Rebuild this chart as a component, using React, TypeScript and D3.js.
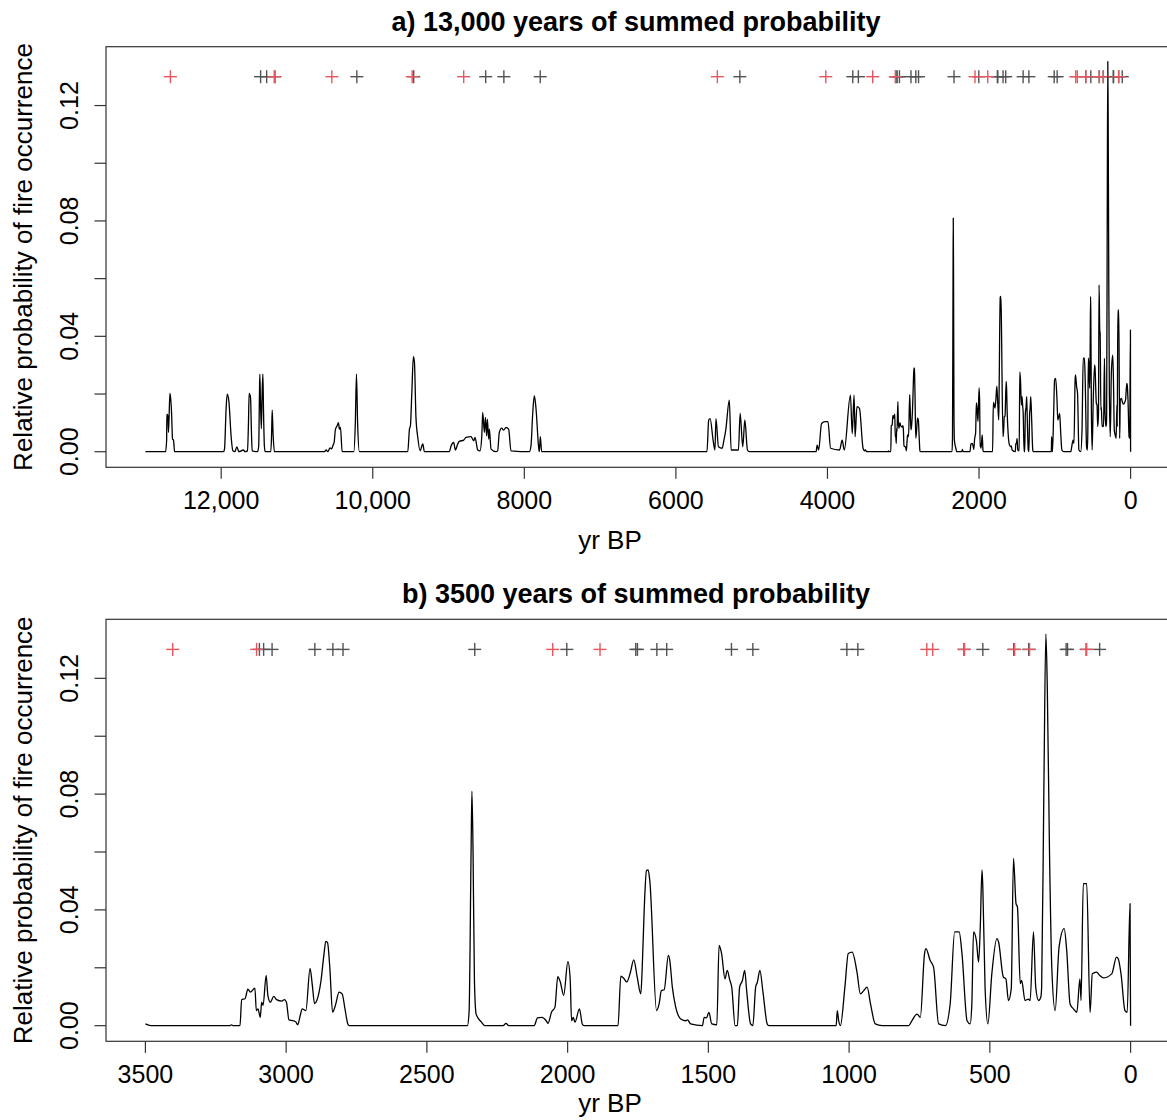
import React from "react";
import * as d3 from "d3";

// ---------- DATA ----------
// Summed probability curve, older part (yr BP, relative probability)
const curveOlder: [number, number][] = [
  [13000, 0], [12734, 0], [12720, 0.004], [12717, 0.013], [12704, 0.0125], [12695, 0.0067], [12677, 0.0202], [12668, 0.0188],
  [12655, 0.0136], [12642, 0.0044], [12629, 0.004], [12615, 0],
  [11969, 0], [11956, 0.001], [11935, 0.015], [11921, 0.02], [11899, 0.0176], [11868, 0.005], [11846, 0.0003], [11820, 0],
  [11793, 0.0017], [11767, 0], [11705, 0.0006], [11688, 0], [11653, 0.0003], [11640, 0.01], [11631, 0.0202], [11613, 0.0188],
  [11600, 0.006], [11591, 0.0003], [11520, 0], [11505, 0.002], [11495, 0.02], [11490, 0.0269], [11482, 0.018], [11470, 0.008],
  [11460, 0.02], [11450, 0.0269], [11442, 0.015], [11430, 0.002], [11420, 0], [11345, 0], [11335, 0.006], [11327, 0.0144],
  [11315, 0.006], [11297, 0],
  [10637, 0], [10615, 0.0006], [10593, 0], [10563, 0.0013], [10541, 0.001], [10528, 0.002], [10510, 0.0032], [10492, 0.0078],
  [10470, 0.009], [10453, 0.0101], [10440, 0.0078], [10426, 0.0084], [10404, 0],
  [10250, 0], [10230, 0.01], [10215, 0.0269], [10200, 0.01], [10176, 0],
  [9538, 0], [9516, 0.0078], [9503, 0.009], [9485, 0.02], [9464, 0.033], [9450, 0.031], [9430, 0.012], [9406, 0.005],
  [9375, 0.0003], [9340, 0.0027], [9318, 0],
  [8989, 0], [8967, 0.002], [8932, 0.0032], [8910, 0.0006], [8879, 0.0027], [8857, 0.0036], [8800, 0.004], [8769, 0.005],
  [8703, 0.0052], [8668, 0.0038], [8650, 0.005], [8615, 0.0006], [8585, 0.0003], [8562, 0.005], [8549, 0.0136], [8527, 0.0067],
  [8514, 0.0119], [8497, 0.0055], [8488, 0.0113], [8470, 0.0044], [8461, 0.0078], [8439, 0.0009], [8374, 0], [8352, 0.0003],
  [8330, 0.0067], [8299, 0.0082], [8273, 0.0075], [8242, 0.0084], [8207, 0.0078], [8176, 0.0003], [7934, 0],
  [7912, 0.002], [7890, 0.013], [7868, 0.0194], [7846, 0.015], [7811, 0.0015], [7802, 0], [7789, 0.0052], [7771, 0],
  [5590, 0], [5567, 0.011], [5548, 0.0115], [5509, 0.004], [5485, 0.0006], [5471, 0.0115], [5438, 0.0017], [5390, 0.0012],
  [5366, 0.004], [5342, 0.0075], [5295, 0.0179], [5271, 0.0006], [5175, 0.0006], [5152, 0.0133], [5118, 0.0017], [5090, 0.011],
  [5056, 0.0006], [5032, 0],
  [4150, 0], [4136, 0.0023], [4116, 0.0006], [4078, 0.0098], [4031, 0.0104], [3993, 0.0104], [3959, 0.0012], [3840, 0.0006],
  [3806, 0.004], [3778, 0.0006], [3697, 0.0196], [3673, 0.0063], [3649, 0.0196], [3635, 0.0052], [3611, 0.0156], [3578, 0.015],
  [3530, 0.0012], [3510, 0.0003],
];

// Summed probability curve, last 3500 years (yr BP, relative probability)
const curveRecent: [number, number][] = [
  [3500, 0.0006], [3481, 0], [3201, 0], [3195, 0.0003], [3187, 0], [3164, 0], [3158, 0.009], [3146, 0.0093], [3136, 0.0126],
  [3127, 0.0116], [3111, 0.013], [3106, 0.0052], [3100, 0.0058], [3092, 0.0029], [3087, 0.0081], [3082, 0.007], [3071, 0.0174],
  [3065, 0.0105], [3056, 0.0081], [3044, 0.0101], [3034, 0.009], [3015, 0.0085], [3006, 0.009], [2999, 0.0081], [2990, 0.002],
  [2974, 0.0017], [2965, 0.0012], [2959, 0.0003], [2950, 0.0035], [2943, 0.0058], [2930, 0.0052], [2915, 0.0198], [2907, 0.014],
  [2899, 0.0076], [2891, 0.0087], [2876, 0.0157], [2866, 0.0244], [2859, 0.0291], [2853, 0.0287], [2845, 0.0203], [2835, 0.0047],
  [2825, 0.007], [2812, 0.0116], [2801, 0.011], [2791, 0.0058], [2781, 0.0006], [2776, 0],
  [2356, 0], [2350, 0.005], [2343, 0.06], [2340, 0.081], [2336, 0.06], [2331, 0.015], [2325, 0.004], [2306, 0.0012], [2294, 0],
  [2229, 0], [2219, 0.0008], [2209, 0],
  [2119, 0], [2107, 0.0027], [2092, 0.0029], [2076, 0.0017], [2070, 0.0008], [2057, 0.0047], [2045, 0.0064], [2035, 0.0169],
  [2026, 0.0151], [2014, 0.0105], [1999, 0.0221], [1991, 0.0163], [1986, 0.0017], [1980, 0.0029], [1974, 0.0012], [1958, 0.0058],
  [1948, 0.0006], [1942, 0],
  [1821, 0], [1811, 0.0171], [1800, 0.0163], [1790, 0.0151], [1778, 0.018], [1765, 0.0227], [1753, 0.0169], [1740, 0.011],
  [1735, 0.02], [1728, 0.04], [1720, 0.0535], [1714, 0.0538], [1708, 0.05], [1684, 0.0052], [1675, 0.0075], [1667, 0.0121],
  [1657, 0.0124], [1642, 0.0243], [1637, 0.0225], [1628, 0.0133], [1616, 0.0064], [1598, 0.0023], [1580, 0.0017], [1574, 0.002],
  [1563, 0.0006], [1521, 0], [1515, 0.0029], [1507, 0.0027], [1498, 0.0046], [1488, 0.0006], [1470, 0.0003], [1462, 0.0277],
  [1453, 0.0249], [1441, 0.0162], [1433, 0.0191], [1424, 0.0158], [1417, 0.0133], [1405, 0], [1397, 0], [1389, 0.0133],
  [1379, 0.0156], [1371, 0.0191], [1364, 0.0121], [1350, 0.0006], [1342, 0], [1332, 0.0133], [1326, 0.015], [1317, 0.0191],
  [1306, 0.0116], [1291, 0.0006], [1285, 0],
  [1046, 0], [1042, 0.0052], [1037, 0.0017], [1031, 0], [1015, 0.0133], [1003, 0.0249], [989, 0.0254], [972, 0.0185],
  [960, 0.011], [948, 0.0121], [936, 0.0133], [924, 0.0075], [907, 0.0006], [883, 0],
  [788, 0], [777, 0.0017], [759, 0.004], [747, 0.0029], [732, 0.0249], [727, 0.0266], [712, 0.0225], [700, 0.0202],
  [682, 0.0006], [658, 0], [641, 0.0075], [625, 0.0324], [609, 0.0324], [599, 0.0249], [581, 0.0017], [570, 0.0006],
  [564, 0.0075], [558, 0.0324], [548, 0.0295], [540, 0.022], [534, 0.0341], [528, 0.0538], [525, 0.048], [517, 0.0133],
  [507, 0.0006], [493, 0.0179], [475, 0.0301], [469, 0.0289], [452, 0.0168], [443, 0.0162], [434, 0.0087], [424, 0.0127],
  [416, 0.0578], [407, 0.0422], [402, 0.041], [392, 0.0145], [387, 0.0156], [375, 0.0087], [363, 0.0092], [357, 0.0087],
  [345, 0.0324], [337, 0.0133], [327, 0.0087], [319, 0.0098], [316, 0.0133], [308, 0.0827], [301, 0.1353], [296, 0.1174],
  [288, 0.0595], [280, 0.0202], [268, 0.0052], [254, 0.0272], [236, 0.0335], [227, 0.026], [215, 0.0075], [203, 0.0058],
  [191, 0.0046], [180, 0.0162], [176, 0.0087], [168, 0.0491], [156, 0.0491], [144, 0.0046], [136, 0.0179], [121, 0.0185],
  [109, 0.0173], [97, 0.0165], [67, 0.0179], [50, 0.0237], [44, 0.0231], [34, 0.0179], [20, 0.0052], [12, 0.0046],
  [2, 0.0422], [0, 0],
];

// Dated fire events (yr BP) shown as crosses
const datesRed: number[] = [12670, 11300, 10540, 9480, 8800, 5453, 4022, 3403, 3105, 2053, 1885, 724, 703, 590, 412, 359, 156];
const datesBlack: number[] = [
  11480, 11400, 11290, 10210, 9460, 8510, 8270, 7790, 5156, 3666, 3592,
  3095, 3080, 3050, 2898, 2834, 2798, 2330, 2003, 1758, 1752, 1683, 1648, 1418, 1342, 1008, 969,
  592, 525, 415, 362, 229, 224, 158, 110,
];
const crossLevel = 0.13;

// Axis ticks
const xTicksA: number[] = [12000, 10000, 8000, 6000, 4000, 2000, 0];
const xLabelsA: string[] = ["12,000", "10,000", "8000", "6000", "4000", "2000", "0"];
const xTicksB: number[] = [3500, 3000, 2500, 2000, 1500, 1000, 500, 0];
const xLabelsB: string[] = ["3500", "3000", "2500", "2000", "1500", "1000", "500", "0"];
const yTicks: number[] = [0, 0.02, 0.04, 0.06, 0.08, 0.1, 0.12];
const yLabelTicks: number[] = [0, 0.04, 0.08, 0.12];

const titleA = "a) 13,000 years of summed probability";
const titleB = "b) 3500 years of summed probability";
const xTitle = "yr BP";
const yTitle = "Relative probability of fire occurrence";

// ---------- LAYOUT ----------
const W = 1167;
const H = 1120;
const FONT = "'Liberation Sans', Arial, Helvetica, sans-serif";
const left = 106;
const right = 1170;

type PanelProps = {
  xMax: number;
  top: number;
  bottom: number;
  data: [number, number][];
  xTicks: number[];
  xLabels: string[];
  title: string;
  xTitleOffset: number;
};

function Panel({ xMax, top, bottom, data, xTicks, xLabels, title, xTitleOffset }: PanelProps) {
  const pad = xMax * 0.04;
  const x = d3.scaleLinear().domain([xMax + pad, -pad]).range([left, right]);
  const y = d3.scaleLinear().domain([-0.0054, 0.1404]).range([bottom, top]);
  const line = d3
    .line<[number, number]>()
    .x((d) => x(d[0]))
    .y((d) => y(d[1]))
    .curve(d3.curveMonotoneX);
  const path = line(data) || "";
  const tick = 11.5;
  const fs = 25;
  const midY = (top + bottom) / 2;
  const cs = 6.5;
  const red = datesRed.filter((d) => d <= xMax);
  const black = datesBlack.filter((d) => d <= xMax);
  const cross = (d: number, color: string, key: string) => {
    const cx = x(d);
    const cy = y(crossLevel);
    return (
      <g key={key} stroke={color} strokeWidth={1.4}>
        <line x1={cx - cs} x2={cx + cs} y1={cy} y2={cy} />
        <line x1={cx} x2={cx} y1={cy - cs} y2={cy + cs} />
      </g>
    );
  };
  return (
    <g>
      <text x={(left + right) / 2 - 2} y={top - 16} textAnchor="middle" fontWeight="bold" fontSize={27} fontFamily={FONT}>
        {title}
      </text>
      <rect x={left} y={top} width={right - left} height={bottom - top} fill="none" stroke="#333" strokeWidth={1.2} />
      {/* x axis */}
      {xTicks.map((t, i) => (
        <g key={"xt" + i}>
          <line x1={x(t)} x2={x(t)} y1={bottom} y2={bottom + tick} stroke="#333" strokeWidth={1.2} />
          <text x={x(t)} y={bottom + 42} textAnchor="middle" fontSize={fs} fontFamily={FONT}>
            {xLabels[i]}
          </text>
        </g>
      ))}
      <text x={(left + right) / 2 - 28} y={bottom + xTitleOffset} textAnchor="middle" fontSize={26} fontFamily={FONT}>
        {xTitle}
      </text>
      {/* y axis */}
      {yTicks.map((t, i) => (
        <line key={"yt" + i} x1={left - tick} x2={left} y1={y(t)} y2={y(t)} stroke="#333" strokeWidth={1.2} />
      ))}
      {yLabelTicks.map((t, i) => (
        <text
          key={"yl" + i}
          transform={`translate(${left - 28},${y(t)}) rotate(-90)`}
          textAnchor="middle"
          fontSize={fs}
          fontFamily={FONT}
        >
          {t.toFixed(2)}
        </text>
      ))}
      <text transform={`translate(32,${midY}) rotate(-90)`} textAnchor="middle" fontSize={26} fontFamily={FONT}>
        {yTitle}
      </text>
      {/* curve */}
      <path d={path} fill="none" stroke="#000" strokeWidth={1.3} strokeLinejoin="round" />
      {/* crosses */}
      <g opacity={0.75}>
        {black.map((d, i) => cross(d, "#1a1a1a", "b" + i))}
        {red.map((d, i) => cross(d, "#e0202a", "r" + i))}
      </g>
    </g>
  );
}

export default function App() {
  const curveAll = [...curveOlder, ...curveRecent];
  return (
    <svg
      width={W}
      height={H}
      viewBox={`0 0 ${W} ${H}`}
      style={{ position: "absolute", left: 0, top: 0, background: "#fff" }}
    >
      <rect x={0} y={0} width={W} height={H} fill="#fff" />
      <Panel xMax={13000} top={46.7} bottom={467.3} data={curveAll} xTicks={xTicksA} xLabels={xLabelsA} title={titleA} xTitleOffset={82} />
      <Panel xMax={3500} top={619.3} bottom={1041.3} data={curveRecent} xTicks={xTicksB} xLabels={xLabelsB} title={titleB} xTitleOffset={71} />
    </svg>
  );
}
